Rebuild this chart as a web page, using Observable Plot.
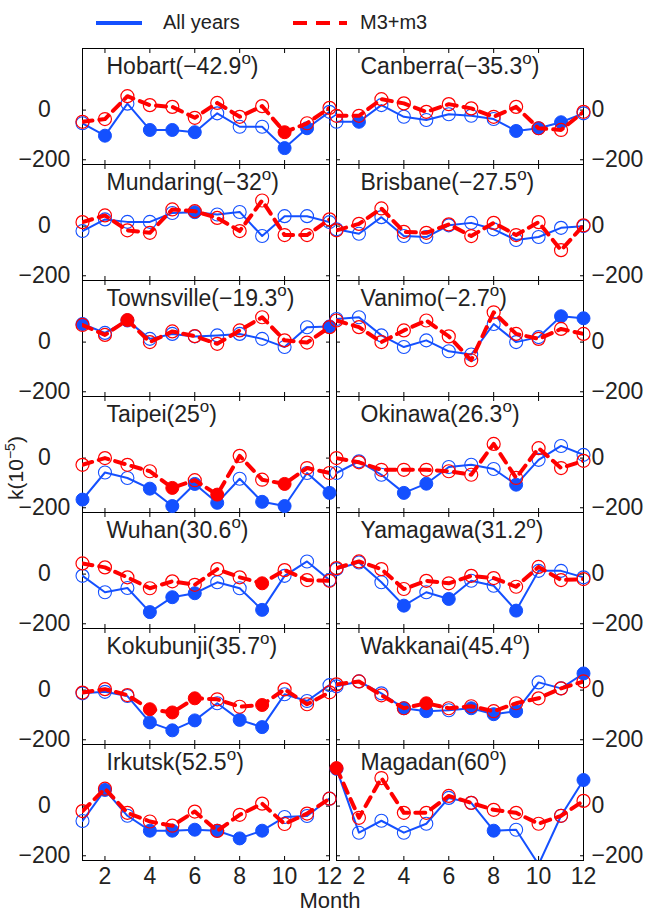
<!DOCTYPE html>
<html>
<head>
<meta charset="utf-8">
<script src="https://cdn.jsdelivr.net/npm/d3@7"></script>
<script src="https://cdn.jsdelivr.net/npm/@observablehq/plot@0.6"></script>
<style>
  html, body { margin: 0; padding: 0; background: #fff; }
  body { width: 647px; height: 912px; position: relative; overflow: hidden;
         font-family: "Liberation Sans", Arial, Helvetica, sans-serif; color: #222; }
  #legend { position: absolute; left: 0; top: 0; width: 647px; height: 40px; }
  .sw { position: absolute; height: 4px; top: 21px; }
  .lt { position: absolute; top: 10px; font-size: 20px; line-height: 24px; white-space: nowrap; }
  #chart { position: absolute; left: 0; top: 40px; }
  #xlab { position: absolute; left: 0; width: 660px; top: 889px; text-align: center; font-size: 22px; line-height: 23px; }
  #ylab { position: absolute; left: 15px; top: 468px; transform: translate(-50%, -50%) rotate(-90deg);
          font-size: 21px; line-height: 21px; white-space: nowrap; }
  #ylab sup { font-size: 14px; line-height: 0; vertical-align: 8px; }
</style>
</head>
<body>
<div id="legend">
  <div class="sw" style="left:96px;width:46px;background:#1450ff;"></div>
  <div class="lt" style="left:163px;">All years</div>
  <div class="sw" style="left:293px;width:54px;background:repeating-linear-gradient(to right,#ff0000 0 14px,transparent 14px 23px);"></div>
  <div class="lt" style="left:360px;">M3+m3</div>
</div>
<div id="chart"></div>
<div id="ylab">k(10<sup>−5</sup>)</div>
<div id="xlab">Month</div>
<script>
const stationNames = ["Hobart","Canberra","Mundaring","Brisbane","Townsville","Vanimo","Taipei","Okinawa","Wuhan","Yamagawa","Kokubunji","Wakkanai","Irkutsk","Magadan"];
const latitudes = ["−42.9","−35.3","−32","−27.5","−19.3","−2.7","25","26.3","30.6","31.2","35.7","45.4","52.5","60"];
const months = [1,2,3,4,5,6,7,8,9,10,11,12];
const monthTicks = [2,4,6,8,10,12];
const valueTicks = [-200, 0];

// "All years" series (blue), one row per station
const allYears = [
  [-53,-103,26,-80,-80,-89,-13,-67,-67,-153,-73,-7],
  [-47,-47,20,-27,-40,-17,-23,-36,-84,-73,-49,-13],
  [-20,27,17,17,53,56,47,57,-40,40,40,16],
  [-13,-31,36,-40,-44,3,13,-13,-56,-44,-7,0],
  [73,37,87,13,33,23,27,33,13,-20,60,63],
  [93,100,27,-20,7,-37,-50,73,0,20,104,96],
  [-167,-58,-80,-123,-193,-104,-180,-83,-176,-193,-60,-140],
  [-60,-13,-67,-140,-103,-36,-27,-44,-107,-7,49,13],
  [-7,-73,-56,-153,-93,-77,-33,-57,-144,-7,51,-24],
  [20,47,-33,-127,-73,-100,-27,-47,-147,13,13,-13],
  [-13,-7,-24,-130,-162,-122,-53,-120,-149,-17,-44,20],
  [15,35,-13,-73,-85,-81,-73,-97,-85,31,7,67],
  [-60,65,-39,-99,-99,-95,-99,-130,-99,-44,-40,30],
  [150,-107,-59,-107,-71,33,13,-99,-95,-235,-39,105]
];
// filled (1) or open (0) markers of the blue series
const allYearsFilled = [
  [0,1,0,1,1,1,0,0,0,1,1,0],
  [0,1,0,0,0,0,0,0,1,1,1,0],
  [0,0,0,0,0,1,0,0,0,0,0,0],
  [0,0,0,0,0,0,0,0,0,0,0,0],
  [1,0,1,0,0,0,0,0,0,0,0,1],
  [0,0,0,0,0,0,0,0,0,0,1,1],
  [1,0,0,1,1,1,1,0,1,1,0,1],
  [0,0,0,1,1,0,0,0,1,0,0,0],
  [0,0,0,1,1,1,0,0,1,0,0,0],
  [0,0,0,1,0,1,0,0,1,0,0,0],
  [0,0,0,1,1,1,0,1,1,0,0,0],
  [0,0,0,1,1,0,1,1,1,0,0,1],
  [0,1,0,1,1,1,1,1,1,0,0,0],
  [1,0,0,0,0,0,0,1,0,0,0,1]
];
// "M3+m3" series (red dashed)
const m3m3 = [
  [-47,-36,56,20,13,-31,29,-27,16,-89,-53,9],
  [-23,-23,44,27,-7,24,7,-27,13,-73,-80,-7],
  [16,43,-17,-27,67,60,33,-20,103,-36,-36,27],
  [-17,9,71,-23,-27,7,-40,13,-36,16,-97,3],
  [69,29,89,0,43,24,-7,47,100,7,-2,60],
  [87,60,0,47,87,23,-73,120,33,13,53,33],
  [-27,0,-27,-53,-120,-89,-147,9,-87,-104,-40,-60],
  [0,-17,-47,-47,-47,-53,-67,57,-80,40,-40,-11],
  [43,27,-13,-57,-29,-43,20,-13,-37,16,-24,-27],
  [24,51,20,-60,-27,-37,-7,-16,-51,29,-24,-20],
  [-10,4,-20,-77,-90,-33,-37,-67,-60,3,-57,-9],
  [23,35,-21,-73,-53,-73,-65,-85,-53,-33,7,35],
  [-20,70,-27,-62,-79,-22,-100,-35,10,-72,-30,30],
  [153,-47,113,-27,-27,41,13,-15,-27,-71,-39,21]
];
const m3m3Filled = [
  [0,0,0,0,0,0,0,0,0,1,0,0],
  [0,0,0,0,0,0,0,0,0,0,0,0],
  [0,0,0,0,0,0,0,0,0,0,0,0],
  [0,0,0,0,0,0,0,0,0,0,0,0],
  [0,0,1,0,0,0,0,0,0,0,0,0],
  [0,0,0,0,0,0,0,0,0,0,0,0],
  [0,0,0,0,1,0,1,0,0,1,0,0],
  [0,0,0,0,0,0,0,0,0,0,0,0],
  [0,0,0,0,0,0,0,0,1,0,0,0],
  [0,0,0,0,0,0,0,0,0,0,0,0],
  [0,0,0,1,1,1,0,0,1,0,0,0],
  [0,0,0,0,1,0,0,0,0,0,0,0],
  [0,0,0,0,0,0,0,0,0,0,0,0],
  [1,0,0,0,0,0,0,0,0,0,0,0]
];

const BLUE = "#1450ff";
const RED = "#ff0000";
const Y_MIN = -219, Y_MAX = 248;

const rows = [];
stationNames.forEach((name, i) => {
  months.forEach((m, j) => {
    rows.push({
      station: name,
      col: i % 2 ? "R" : "L",
      row: Math.floor(i / 2),
      month: m,
      all: allYears[i][j],
      allSig: allYearsFilled[i][j],
      m3: m3m3[i][j],
      m3Sig: m3m3Filled[i][j]
    });
  });
});
const titles = stationNames.map((name, i) => ({
  col: i % 2 ? "R" : "L",
  row: Math.floor(i / 2),
  title: `${name}(${latitudes[i]}°)`
}));

const inY = (k) => (d) => d[k] >= Y_MIN && d[k] <= Y_MAX;
const F = {fx: "col", fy: "row"};

const svg = Plot.plot({
  width: 647,
  height: 849,
  marginTop: 6,
  marginBottom: 27,
  marginLeft: 81,
  marginRight: 63,
  style: {fontFamily: "'Liberation Sans', Arial, Helvetica, sans-serif", fontSize: "23px", color: "#222", background: "transparent"},
  fx: {domain: ["L", "R"], paddingInner: 0.027, paddingOuter: 0, axis: null},
  fy: {domain: [0, 1, 2, 3, 4, 5, 6], padding: 0, axis: null},
  x: {domain: [1, 12]},
  y: {domain: [Y_MIN, Y_MAX]},
  marks: [
    Plot.frame({stroke: "#000", strokeWidth: 1}),
    // inward tick marks on all four sides of every panel
    Plot.axisX(monthTicks, {anchor: "bottom", facetAnchor: null, tickSize: -4, fill: "none", label: null, stroke: "#000"}),
    Plot.axisX(monthTicks, {anchor: "top", facetAnchor: null, tickSize: -4, fill: "none", label: null, stroke: "#000"}),
    Plot.axisY(valueTicks, {anchor: "left", facetAnchor: null, tickSize: -4, fill: "none", label: null, stroke: "#000"}),
    Plot.axisY(valueTicks, {anchor: "right", facetAnchor: null, tickSize: -4, fill: "none", label: null, stroke: "#000"}),
    // tick labels
    Plot.axisX(monthTicks, {anchor: "bottom", tickSize: 0, tickPadding: 7, fontSize: 23, label: null, fill: "#222"}),
    Plot.axisY(valueTicks, {anchor: "left", facetAnchor: "left", tickSize: 0, tickPadding: 38, textAnchor: "middle", fontSize: 23, label: null, fill: "#222"}),
    Plot.axisY(valueTicks, {anchor: "right", facetAnchor: "right", tickSize: 0, tickPadding: 8, fontSize: 23, label: null, fill: "#222"}),
    // All years (blue)
    Plot.line(rows, {...F, x: "month", y: "all", z: "station", stroke: BLUE, strokeWidth: 2, clip: "frame"}),
    Plot.dot(rows.filter(d => !d.allSig && inY("all")(d)), {...F, x: "month", y: "all", r: 6.5, stroke: BLUE, strokeWidth: 1.1, fill: "none"}),
    Plot.dot(rows.filter(d => d.allSig && inY("all")(d)), {...F, x: "month", y: "all", r: 6.5, stroke: BLUE, strokeWidth: 1, fill: BLUE}),
    // M3+m3 (red dashed)
    Plot.line(rows, {...F, x: "month", y: "m3", z: "station", stroke: RED, strokeWidth: 4, strokeDasharray: "10,7", clip: "frame"}),
    Plot.dot(rows.filter(d => !d.m3Sig && inY("m3")(d)), {...F, x: "month", y: "m3", r: 6.5, stroke: RED, strokeWidth: 1.2, fill: "none"}),
    Plot.dot(rows.filter(d => d.m3Sig && inY("m3")(d)), {...F, x: "month", y: "m3", r: 6.5, stroke: RED, strokeWidth: 1, fill: RED}),
    // panel titles
    Plot.text(titles, {...F, text: "title", frameAnchor: "top-left", textAnchor: "start", lineAnchor: "top", dx: 24, dy: 9.5, fontSize: 23, fill: "#222", className: "panel-title"})
  ]
});

// raise the degree mark as a superscript "o"
const NS = "http://www.w3.org/2000/svg";
svg.querySelectorAll("g.panel-title text").forEach(t => {
  const s = t.textContent;
  const i = s.indexOf("°");
  if (i < 0) return;
  t.textContent = "";
  const a = document.createElementNS(NS, "tspan"); a.textContent = s.slice(0, i);
  const b = document.createElementNS(NS, "tspan"); b.textContent = "o";
  b.setAttribute("dy", "-10"); b.setAttribute("font-size", "17");
  const c = document.createElementNS(NS, "tspan"); c.textContent = s.slice(i + 1);
  c.setAttribute("dy", "10");
  t.append(a, b, c);
});

document.getElementById("chart").appendChild(svg);
</script>
</body>
</html>
